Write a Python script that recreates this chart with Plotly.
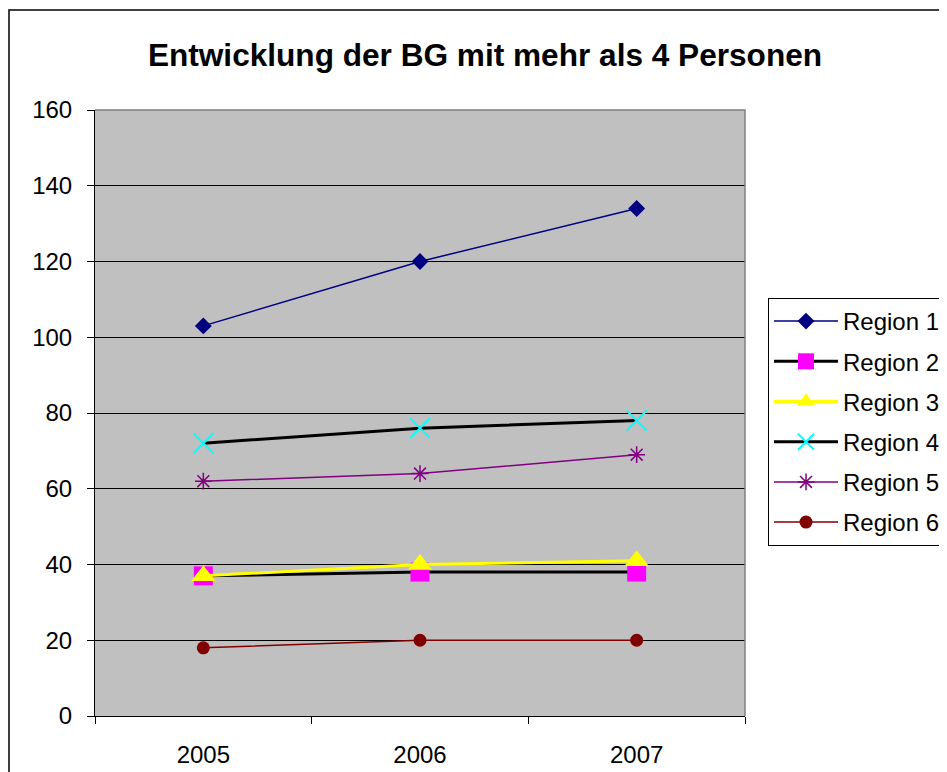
import plotly.graph_objects as go

years = ["2005", "2006", "2007"]
region1 = [103, 120, 134]
region2 = [37, 38, 38]
region3 = [37, 40, 41]
region4 = [72, 76, 78]
region5 = [62, 64, 69]
region6 = [18, 20, 20]
names = ["Region 1", "Region 2", "Region 3", "Region 4", "Region 5", "Region 6"]
y_ticks = [0, 20, 40, 60, 80, 100, 120, 140, 160]

# page body has an 8px margin; figure sized to compensate
W, H = 939, 764
L, T = 87, 102
R, B = W - 737, H - 708
pw, ph = W - L - R, H - T - B

styles = [
    dict(line=dict(color="#000080", width=1.5), marker=dict(symbol="diamond", size=13, color="#000080")),
    dict(line=dict(color="black", width=3), marker=dict(symbol="square", size=19, color="#FF00FF")),
    dict(line=dict(color="#FFFF00", width=3), marker=dict(symbol="triangle-up", size=21, color="#FFFF00")),
    dict(line=dict(color="black", width=3), marker=dict(symbol="x-thin", size=20, color="#00FFFF", line=dict(color="#00FFFF", width=2))),
    dict(line=dict(color="#800080", width=1.5), marker=dict(symbol="asterisk", size=14, color="#800080", line=dict(color="#800080", width=1.5))),
    dict(line=dict(color="#800000", width=1.5), marker=dict(symbol="circle", size=13, color="#800000")),
]
series = [region1, region2, region3, region4, region5, region6]

fig = go.Figure()
for nm, vals, st in zip(names, series, styles):
    fig.add_trace(go.Scatter(x=years, y=vals, name=nm, mode="lines+markers",
                             legendgroup=nm, **st))

font = "Liberation Sans, Arial, sans-serif"
fig.update_layout(
    width=W, height=H,
    margin=dict(l=L, r=R, t=T, b=B, autoexpand=False),
    paper_bgcolor="white", plot_bgcolor="#C0C0C0",
    font=dict(family=font, size=24, color="black"),
    title=dict(text="<b>Entwicklung der BG mit mehr als 4 Personen</b>",
               x=477 / W, xanchor="center", y=1 - 47 / H, yanchor="middle",
               font=dict(size=31.6, family=font)),
    showlegend=True,
    legend=dict(x=(760 - L) / pw, xanchor="left", y=(H - B - 290) / ph, yanchor="top",
                bgcolor="white", bordercolor="black", borderwidth=1,
                font=dict(size=24, family=font), tracegroupgap=6,
                itemwidth=64),
    xaxis=dict(type="category", range=[-0.5, 2.5], tickson="boundaries",
               ticks="outside", ticklen=7, tickcolor="black",
               showline=True, linecolor="black", linewidth=1, automargin=False,
               showgrid=False, tickfont=dict(size=24), ticklabelstandoff=17),
    yaxis=dict(range=[0, 160], tickvals=y_ticks, ticks="outside", ticklen=7,
               tickcolor="black", showline=True, linecolor="black", linewidth=1,
               showgrid=True, gridcolor="black", gridwidth=1, zeroline=False,
               automargin=False, tickfont=dict(size=24), ticklabelstandoff=10),
    shapes=[
        dict(type="path", xref="paper", yref="paper", path="M0,1 L1,1 L1,0",
             line=dict(color="#808080", width=1.5), layer="above"),
        dict(type="rect", xref="paper", yref="paper",
             x0=(1 - L) / pw, x1=(W + 20 - L) / pw,
             y0=-(20 + B) / ph, y1=(H - B - 2) / ph,
             line=dict(color="black", width=1.5)),
    ],
)

fig.write_html("out.html")
